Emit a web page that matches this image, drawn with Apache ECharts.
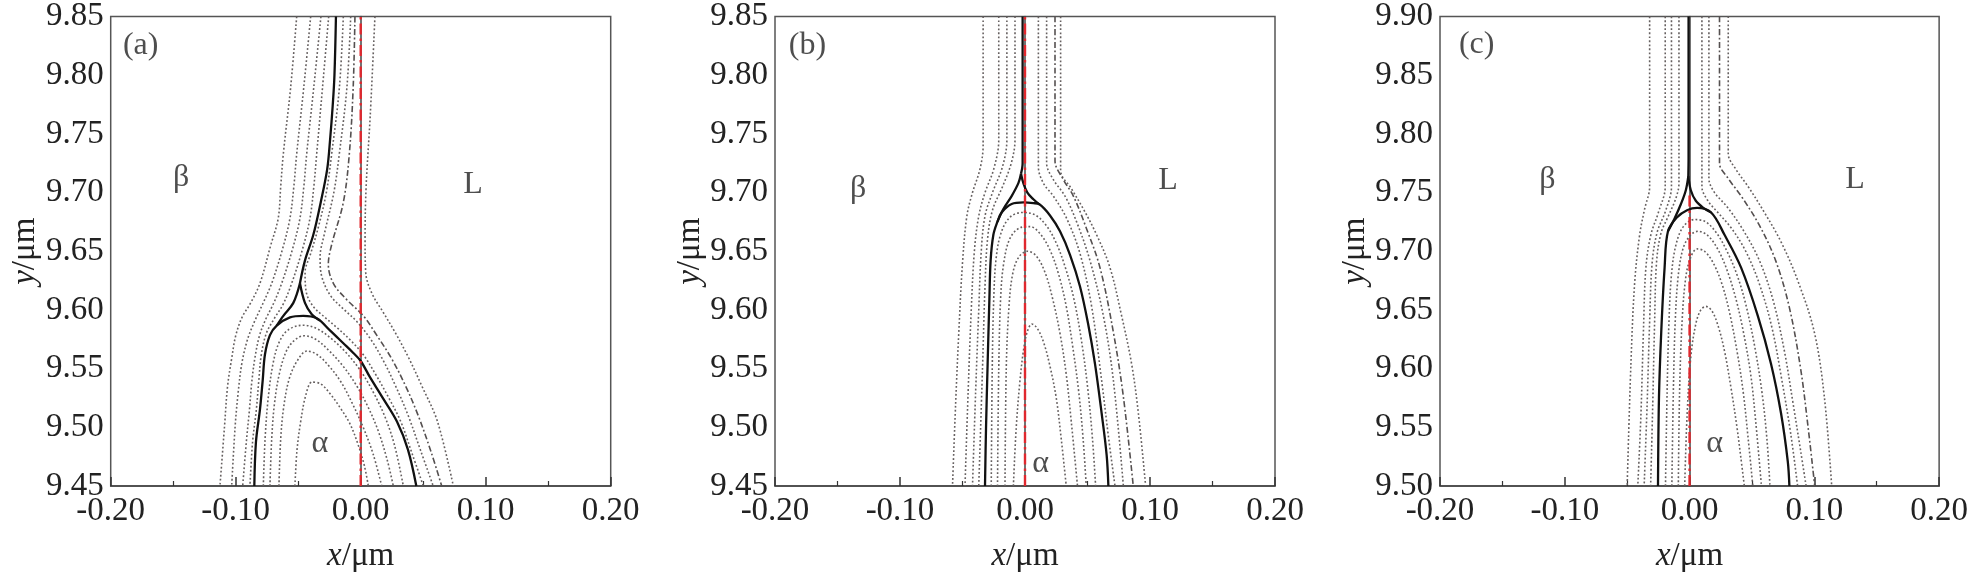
<!DOCTYPE html>
<html><head><meta charset="utf-8">
<script src="https://cdn.jsdelivr.net/npm/echarts@6/dist/echarts.min.js"></script>
<style>html,body{margin:0;padding:0;background:#fff}#c{width:1971px;height:578px}</style>
</head><body><div id="c"></div>
<script>
// ---------- axis ranges / ticks ----------
const xRange = [-0.2, 0.2];
const xInterval = 0.1;
const yInterval = 0.05;
const yRangeA = [9.45, 9.85];
const yRangeB = [9.45, 9.85];
const yRangeC = [9.50, 9.90];

// ---------- panel (a) ----------
const aBlackUpper = [[-0.0198,9.85],[-0.021,9.80],[-0.0224,9.774],[-0.0245,9.745],[-0.0268,9.72],[-0.032,9.6916],[-0.0379,9.664],[-0.0446,9.642],[-0.0486,9.6227]];
const aBlackWedgeL = [[-0.0486,9.6227],[-0.0539,9.606],[-0.0619,9.595],[-0.0672,9.5867]];
const aBlackWedgeR = [[-0.0486,9.6227],[-0.0446,9.606],[-0.0392,9.5964],[-0.0326,9.591]];
const aBlackAlpha = [[-0.0851,9.45],[-0.0838,9.4875],[-0.0806,9.515],[-0.0784,9.540],[-0.0766,9.562],[-0.0726,9.5785],[-0.0672,9.5867],[-0.0566,9.5937],[-0.0459,9.595],[-0.0352,9.5929],[-0.0246,9.5826],[-0.0139,9.5716],[-0.0059,9.5633],[0,9.5565],[0.0074,9.5427],[0.0165,9.527],[0.029,9.505],[0.0378,9.481],[0.0445,9.45]];
const aL1 = [[-0.0256,9.85],[-0.0305,9.79],[-0.0352,9.733],[-0.0375,9.705],[-0.0406,9.678],[-0.0465,9.652],[-0.0552,9.6227],[-0.062,9.605],[-0.0695,9.592],[-0.0755,9.58],[-0.0795,9.562],[-0.0815,9.54],[-0.0835,9.515],[-0.0865,9.4875],[-0.0886,9.45]];
const aL2 = [[-0.0318,9.85],[-0.0375,9.79],[-0.0432,9.733],[-0.0455,9.705],[-0.0486,9.678],[-0.0545,9.652],[-0.0632,9.6227],[-0.0695,9.606],[-0.076,9.592],[-0.081,9.578],[-0.0845,9.56],[-0.087,9.54],[-0.089,9.515],[-0.0915,9.4875],[-0.0944,9.45]];
const aL3 = [[-0.040,9.85],[-0.0455,9.79],[-0.0512,9.733],[-0.0535,9.705],[-0.0566,9.678],[-0.0625,9.652],[-0.0712,9.6227],[-0.078,9.606],[-0.085,9.59],[-0.0905,9.575],[-0.095,9.555],[-0.098,9.53],[-0.1005,9.50],[-0.1032,9.45]];
const aL4 = [[-0.0512,9.85],[-0.056,9.79],[-0.0619,9.733],[-0.064,9.705],[-0.066,9.678],[-0.072,9.655],[-0.0806,9.6227],[-0.088,9.606],[-0.0948,9.594],[-0.100,9.578],[-0.103,9.56],[-0.1065,9.535],[-0.109,9.50],[-0.1126,9.45]];
const aC1 = [[-0.0779,9.45],[-0.0765,9.49],[-0.074,9.525],[-0.070,9.555],[-0.065,9.573],[-0.058,9.583],[-0.046,9.587],[-0.035,9.584],[-0.024,9.576],[-0.012,9.564],[0,9.548],[0.010,9.530],[0.019,9.510],[0.027,9.485],[0.0341,9.45]];
const aC2 = [[-0.0726,9.45],[-0.0712,9.49],[-0.069,9.52],[-0.065,9.546],[-0.059,9.566],[-0.052,9.575],[-0.045,9.578],[-0.036,9.575],[-0.026,9.566],[-0.014,9.552],[-0.003,9.535],[0.006,9.517],[0.014,9.497],[0.021,9.473],[0.0261,9.45]];
const aC3 = [[-0.0654,9.45],[-0.064,9.49],[-0.0615,9.518],[-0.057,9.542],[-0.050,9.558],[-0.043,9.565],[-0.035,9.562],[-0.026,9.553],[-0.016,9.539],[-0.007,9.521],[0.002,9.50],[0.010,9.477],[0.0168,9.45]];
const aC4 = [[-0.0526,9.45],[-0.051,9.48],[-0.048,9.505],[-0.044,9.527],[-0.039,9.5385],[-0.032,9.537],[-0.024,9.528],[-0.016,9.516],[-0.0086,9.503],[-0.002,9.485],[0.003,9.467],[0.0061,9.45]];
const aR1 = [[-0.0139,9.85],[-0.017,9.79],[-0.0232,9.733],[-0.0275,9.70],[-0.034,9.67],[-0.040,9.648],[-0.0445,9.632],[-0.0435,9.615],[-0.038,9.603],[-0.029,9.594],[-0.018,9.584],[-0.008,9.574],[0.002,9.562],[0.012,9.545],[0.022,9.526],[0.032,9.505],[0.041,9.478],[0.0501,9.45]];
const aR2 = [[-0.008,9.85],[-0.011,9.79],[-0.0171,9.733],[-0.0215,9.70],[-0.029,9.665],[-0.0325,9.645],[-0.031,9.628],[-0.024,9.612],[-0.013,9.60],[-0.003,9.59],[0.008,9.575],[0.018,9.557],[0.028,9.535],[0.038,9.51],[0.048,9.48],[0.058,9.45]];
const aR3 = [[-0.0046,9.85],[-0.006,9.79],[-0.0091,9.733],[-0.0139,9.6916],[-0.0232,9.6557],[-0.0259,9.639],[-0.0219,9.6227],[-0.0112,9.6088],[0.0021,9.595],[0.0128,9.5785],[0.025,9.558],[0.036,9.535],[0.046,9.51],[0.056,9.48],[0.0648,9.45]];
const aR4 = [[0.0114,9.85],[0.0076,9.765],[0.0043,9.704],[0.0035,9.66],[0.004,9.632],[0.009,9.614],[0.018,9.598],[0.028,9.58],[0.038,9.56],[0.049,9.535],[0.0614,9.505],[0.0741,9.45]];
const aRed = [[0,9.45],[0,9.85]];
const aLabels = [['(a)',-0.176,9.825],['β',-0.1436,9.713],['L',0.0899,9.707],['α',-0.0327,9.486]];

// ---------- panel (b) ----------
const bBlackUpper = [[-0.0019,9.85],[-0.0019,9.725],[-0.0032,9.716]];
const bBlackWedgeL = [[-0.0032,9.716],[-0.0053,9.708],[-0.0107,9.697],[-0.0173,9.686],[-0.0221,9.675]];
const bBlackWedgeR = [[-0.0032,9.716],[-0.0013,9.708],[0.0019,9.700],[0.0067,9.6943],[0.0115,9.690]];
const bBlackAlpha = [[-0.032,9.45],[-0.0312,9.4985],[-0.0299,9.554],[-0.0285,9.609],[-0.0275,9.642],[-0.0253,9.664],[-0.0221,9.675],[-0.0187,9.683],[-0.0107,9.6902],[-0.0013,9.6916],[0.0067,9.691],[0.0115,9.690],[0.020,9.6805],[0.028,9.667],[0.036,9.647],[0.044,9.62],[0.0507,9.587],[0.056,9.554],[0.0613,9.512],[0.0653,9.4765],[0.0667,9.45]];
const bL1 = [[-0.008,9.85],[-0.008,9.745],[-0.011,9.725],[-0.018,9.705],[-0.026,9.685],[-0.030,9.66],[-0.032,9.62],[-0.034,9.55],[-0.037,9.45]];
const bL2 = [[-0.0145,9.85],[-0.0145,9.745],[-0.018,9.722],[-0.026,9.70],[-0.032,9.68],[-0.035,9.65],[-0.037,9.60],[-0.0395,9.53],[-0.042,9.45]];
const bL3 = [[-0.021,9.85],[-0.021,9.745],[-0.025,9.72],[-0.032,9.70],[-0.037,9.68],[-0.0405,9.65],[-0.043,9.60],[-0.0455,9.53],[-0.048,9.45]];
const bL4 = [[-0.0335,9.85],[-0.0335,9.74],[-0.036,9.72],[-0.042,9.70],[-0.0465,9.68],[-0.050,9.64],[-0.053,9.58],[-0.0555,9.52],[-0.058,9.45]];
const bC1 = [[-0.027,9.45],[-0.0262,9.55],[-0.025,9.61],[-0.023,9.645],[-0.019,9.666],[-0.012,9.679],[-0.002,9.683],[0.008,9.681],[0.017,9.672],[0.025,9.657],[0.032,9.637],[0.039,9.61],[0.045,9.575],[0.050,9.535],[0.054,9.49],[0.0565,9.45]];
const bC2 = [[-0.022,9.45],[-0.021,9.55],[-0.0195,9.61],[-0.017,9.64],[-0.012,9.661],[-0.004,9.670],[0.004,9.671],[0.012,9.665],[0.020,9.651],[0.027,9.630],[0.033,9.603],[0.038,9.57],[0.043,9.53],[0.0465,9.49],[0.049,9.45]];
const bC3 = [[-0.016,9.45],[-0.015,9.55],[-0.013,9.60],[-0.010,9.63],[-0.005,9.645],[0.002,9.650],[0.009,9.646],[0.016,9.632],[0.022,9.61],[0.028,9.58],[0.033,9.545],[0.037,9.505],[0.042,9.45]];
const bC4 = [[-0.0093,9.45],[-0.007,9.50],[-0.004,9.54],[-0.001,9.567],[0.002,9.582],[0.0055,9.588],[0.010,9.584],[0.015,9.572],[0.020,9.552],[0.025,9.525],[0.029,9.49],[0.033,9.45]];
const bR1 = [[0.0107,9.85],[0.0107,9.722],[0.0147,9.708],[0.0227,9.697],[0.0333,9.678],[0.044,9.648],[0.0533,9.603],[0.0613,9.54],[0.067,9.49],[0.072,9.45]];
const bR2 = [[0.0173,9.85],[0.0173,9.725],[0.0227,9.711],[0.032,9.697],[0.0413,9.675],[0.052,9.642],[0.0627,9.595],[0.0707,9.54],[0.0787,9.45]];
const bR3 = [[0.024,9.85],[0.024,9.727],[0.0307,9.711],[0.0387,9.697],[0.0493,9.669],[0.060,9.636],[0.0707,9.581],[0.0787,9.526],[0.0866,9.45]];
const bR4 = [[0.0285,9.85],[0.0285,9.719],[0.0373,9.703],[0.0467,9.686],[0.0573,9.664],[0.068,9.636],[0.0773,9.595],[0.0853,9.554],[0.0907,9.512],[0.0965,9.45]];
const bRed = [[0,9.45],[0,9.85]];
const bLabels = [['(b)',-0.174,9.825],['β',-0.1335,9.703],['L',0.1144,9.710],['α',0.0126,9.469]];

// ---------- panel (c) ----------
const cBlackUpper = [[-0.0008,9.90],[-0.0008,9.78],[-0.001,9.764]];
const cBlackWedgeL = [[-0.001,9.764],[-0.003,9.752],[-0.007,9.740],[-0.012,9.728],[-0.0173,9.717]];
const cBlackWedgeR = [[-0.001,9.764],[0.001,9.752],[0.005,9.743],[0.011,9.737],[0.0173,9.733]];
const cBlackAlpha = [[-0.0253,9.50],[-0.0245,9.576],[-0.0227,9.631],[-0.020,9.686],[-0.0173,9.717],[-0.010,9.729],[-0.002,9.735],[0.006,9.737],[0.0173,9.733],[0.028,9.714],[0.0413,9.686],[0.0547,9.645],[0.0653,9.604],[0.0733,9.562],[0.0787,9.521],[0.080,9.50]];
const cL1 = [[-0.0085,9.90],[-0.0085,9.758],[-0.011,9.745],[-0.017,9.73],[-0.023,9.715],[-0.0265,9.69],[-0.028,9.64],[-0.0295,9.57],[-0.0312,9.50]];
const cL2 = [[-0.0145,9.90],[-0.0145,9.755],[-0.019,9.735],[-0.026,9.716],[-0.030,9.69],[-0.032,9.64],[-0.034,9.57],[-0.0364,9.50]];
const cL3 = [[-0.0195,9.90],[-0.0195,9.755],[-0.025,9.733],[-0.031,9.714],[-0.035,9.686],[-0.037,9.631],[-0.039,9.56],[-0.0415,9.50]];
const cL4 = [[-0.032,9.90],[-0.032,9.755],[-0.036,9.736],[-0.040,9.714],[-0.044,9.673],[-0.047,9.604],[-0.050,9.50]];
const cC1 = [[-0.0193,9.50],[-0.018,9.58],[-0.0165,9.64],[-0.0145,9.68],[-0.011,9.705],[-0.005,9.721],[0.004,9.727],[0.013,9.725],[0.022,9.715],[0.030,9.70],[0.038,9.68],[0.045,9.655],[0.052,9.62],[0.058,9.58],[0.062,9.54],[0.0644,9.50]];
const cC2 = [[-0.0142,9.50],[-0.013,9.58],[-0.0115,9.64],[-0.009,9.68],[-0.005,9.703],[0.001,9.714],[0.007,9.717],[0.015,9.713],[0.023,9.701],[0.030,9.684],[0.037,9.66],[0.043,9.632],[0.049,9.595],[0.053,9.555],[0.0576,9.50]];
const cC3 = [[-0.009,9.50],[-0.008,9.58],[-0.006,9.64],[-0.003,9.678],[0.001,9.695],[0.006,9.702],[0.012,9.700],[0.019,9.690],[0.026,9.672],[0.032,9.648],[0.038,9.615],[0.043,9.58],[0.047,9.54],[0.0507,9.50]];
const cC4 = [[-0.0039,9.50],[-0.002,9.56],[0.001,9.61],[0.005,9.638],[0.009,9.650],[0.013,9.653],[0.018,9.649],[0.023,9.636],[0.028,9.615],[0.033,9.585],[0.038,9.55],[0.041,9.525],[0.0439,9.50]];
const cR1 = [[0.0099,9.90],[0.0099,9.755],[0.0147,9.743],[0.0227,9.733],[0.0333,9.72],[0.045,9.70],[0.056,9.672],[0.066,9.635],[0.074,9.59],[0.081,9.545],[0.0866,9.50]];
const cR2 = [[0.0155,9.90],[0.0155,9.762],[0.020,9.750],[0.030,9.738],[0.043,9.718],[0.056,9.692],[0.067,9.658],[0.076,9.615],[0.083,9.57],[0.089,9.53],[0.0934,9.50]];
const cR3 = [[0.024,9.90],[0.024,9.775],[0.031,9.762],[0.042,9.746],[0.056,9.722],[0.069,9.692],[0.080,9.652],[0.089,9.60],[0.095,9.55],[0.1003,9.50]];
const cR4 = [[0.031,9.90],[0.031,9.783],[0.037,9.77],[0.047,9.755],[0.060,9.733],[0.0733,9.708],[0.0867,9.675],[0.100,9.631],[0.108,9.576],[0.1139,9.50]];
const cRed = [[0,9.50],[0,9.75]];
const cLabels = [['(c)',-0.1706,9.876],['β',-0.1139,9.761],['L',0.1327,9.761],['α',0.02,9.536]];

// ---------- build ----------
const FONT = 'Liberation Serif, Times New Roman, serif';
const TXT = '#222';
const panels = [
  {left:110.7, yr:yRangeA, black:[aBlackUpper,aBlackWedgeL,aBlackWedgeR,aBlackAlpha], dotted:[aL1,aL2,aL3,aL4,aC1,aC2,aC3,aC4,aR1,aR2,aR4], dashdot:[aR3], red:aRed, labels:aLabels},
  {left:775, yr:yRangeB, black:[bBlackUpper,bBlackWedgeL,bBlackWedgeR,bBlackAlpha], dotted:[bL1,bL2,bL3,bL4,bC1,bC2,bC3,bC4,bR1,bR2,bR4], dashdot:[bR3], red:bRed, labels:bLabels},
  {left:1440, yr:yRangeC, black:[cBlackUpper,cBlackWedgeL,cBlackWedgeR,cBlackAlpha], dotted:[cL1,cL2,cL3,cL4,cC1,cC2,cC3,cC4,cR1,cR2,cR4], dashdot:[cR3], red:cRed, labels:cLabels}
];

const grid = [], xAxis = [], yAxis = [], series = [];
panels.forEach((p, i) => {
  grid.push({left:p.left, top:8.5, width:500, height:483.5, show:true, borderColor:'#555', borderWidth:1.5, backgroundColor:'transparent'});
  xAxis.push({
    type:'value', gridIndex:i, min:xRange[0], max:xRange[1], interval:xInterval,
    axisLine:{show:true, lineStyle:{color:'#444', width:1.5}},
    axisTick:{show:true, inside:true, length:9, lineStyle:{color:'#333', width:1.5}},
    minorTick:{show:true, splitNumber:2, length:5, lineStyle:{color:'#333', width:1.2}},
    splitLine:{show:false},
    axisLabel:{formatter:v=>v.toFixed(2), fontFamily:FONT, fontSize:33, color:TXT, margin:9},
    name:'{i|x}/μm', nameLocation:'middle', nameGap:54,
    nameTextStyle:{fontFamily:FONT, fontSize:33, color:TXT, rich:{i:{fontFamily:FONT, fontSize:33, fontStyle:'italic', color:TXT}}}
  });
  yAxis.push({
    type:'value', gridIndex:i, min:p.yr[0], max:p.yr[1], interval:yInterval,
    axisLine:{show:true, lineStyle:{color:'#444', width:1.5}},
    axisTick:{show:false},
    splitLine:{show:false},
    axisLabel:{formatter:v=>v.toFixed(2), fontFamily:FONT, fontSize:33, color:TXT, margin:7},
    name:'{i|y}/μm', nameLocation:'middle', nameGap:58,
    nameTextStyle:{fontFamily:FONT, fontSize:33, color:TXT, rich:{i:{fontFamily:FONT, fontSize:33, fontStyle:'italic', color:TXT}}}
  });
  const base = {type:'line', xAxisIndex:i, yAxisIndex:i, showSymbol:false, symbol:'none', silent:true, animation:false, clip:true};
  p.dotted.forEach(d => series.push(Object.assign({}, base, {data:d, smooth:0.35, z:2, lineStyle:{color:'#666060', width:1.6, type:[1.8,2.2]}})));
  p.dashdot.forEach(d => series.push(Object.assign({}, base, {data:d, smooth:0.35, z:2, lineStyle:{color:'#555050', width:1.6, type:[6,2.5,1.8,2.5]}})));
  p.black.forEach(d => series.push(Object.assign({}, base, {data:d, smooth:0.35, z:3, lineStyle:{color:'#111', width:2.3}})));
  series.push(Object.assign({}, base, {data:p.red, z:4, lineStyle:{color:'#e0282e', width:2.4, type:[11,4,2.5,4]}}));
  series.push({
    type:'scatter', xAxisIndex:i, yAxisIndex:i, symbolSize:0, silent:true, animation:false, z:5,
    data:p.labels.map(l => ({name:l[0], value:[l[1], l[2]]})),
    label:{show:true, position:'inside', formatter:'{b}', fontFamily:FONT, fontSize:32, color:TXT}
  });
});

const chart = echarts.init(document.getElementById('c'), null, {renderer:'canvas'});
chart.setOption({animation:false, backgroundColor:'#fff', grid, xAxis, yAxis, series});
</script></body></html>
